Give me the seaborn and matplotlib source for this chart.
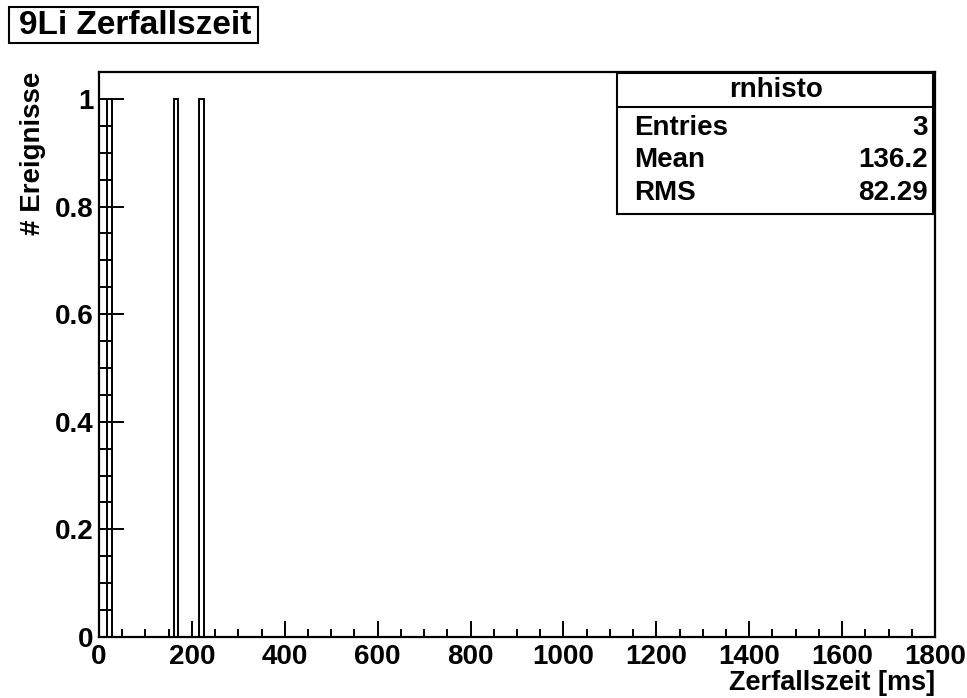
import numpy as np
import pandas as pd
import seaborn as sns
import matplotlib.pyplot as plt
from matplotlib.ticker import MultipleLocator, FuncFormatter
from matplotlib.patches import Rectangle
from matplotlib.lines import Line2D

# decay times of the three 9Li candidates [ms]
decay_times = [23.72, 166.6, 218.28]
hist_name = 'rnhisto'
x_ticks = [0, 200, 400, 600, 800, 1000, 1200, 1400, 1600, 1800]
y_ticks = [0, 0.2, 0.4, 0.6, 0.8, 1.0]
bin_edges = np.linspace(0, 1800, 201)

W, H = 967, 698

def px(x, y):
    # pixel position -> figure fraction
    return x / W, 1 - y / H

sns.set_style('ticks', {'axes.edgecolor': 'black', 'text.color': 'black',
                        'axes.labelcolor': 'black', 'xtick.color': 'black',
                        'ytick.color': 'black'})
plt.rcParams['font.family'] = ['Liberation Sans', 'DejaVu Sans']
plt.rcParams['font.weight'] = 'bold'

df = pd.DataFrame({'t': decay_times})

fig = plt.figure(figsize=(W / 100, H / 100), dpi=100)
ax = fig.add_axes([99 / W, 61 / H, 836 / W, 565 / H])

sns.histplot(data=df, x='t', bins=bin_edges, fill=False, color='black',
             linewidth=1.4, ax=ax)

ax.set_xlim(0, 1800)
ax.set_ylim(0, 1.05)
ax.set_xticks(x_ticks)
ax.set_yticks(y_ticks)
ax.xaxis.set_minor_locator(MultipleLocator(50))
ax.yaxis.set_minor_locator(MultipleLocator(0.05))
fmt = FuncFormatter(lambda v, p: f'{v:g}')
ax.xaxis.set_major_formatter(fmt)
ax.yaxis.set_major_formatter(fmt)

ax.tick_params(axis='both', which='both', direction='in', width=1.4,
               labelsize=20, top=False, right=False, color='black',
               labelcolor='black')
ax.tick_params(axis='y', which='major', length=18, pad=4)
ax.tick_params(axis='y', which='minor', length=9)
ax.tick_params(axis='x', which='major', length=11.5, pad=5)
ax.tick_params(axis='x', which='minor', length=5.8)
for s in ax.spines.values():
    s.set_linewidth(1.6)
    s.set_color('black')
    s.set_visible(True)

ax.set_xlabel('Zerfallszeit [ms]', fontsize=19.5, fontweight='bold', color='black')
ax.set_ylabel('# Ereignisse', fontsize=20, fontweight='bold', color='black')
ax.xaxis.set_label_coords(1.0, -0.081)
ax.xaxis.label.set_horizontalalignment('right')
ax.xaxis.label.set_verticalalignment('center')
ax.yaxis.set_label_coords(-0.079, 1.0)
ax.yaxis.label.set_verticalalignment('center')
ax.yaxis.label.set_horizontalalignment('right')

# title box
x0, y0 = px(9, 43)
x1, y1 = px(258, 7)
fig.patches.append(Rectangle((x0, y0), x1 - x0, y1 - y0, transform=fig.transFigure,
                             fill=False, edgecolor='black', linewidth=1.5))
tx, ty = px(135, 26)
fig.text(tx, ty, '9Li Zerfallszeit', fontsize=24, fontweight='bold',
         ha='center', va='center', color='black')

# stats box
mean = np.mean(decay_times)
rms = np.std(decay_times)
bx0, by0 = px(617, 214)
bx1, by1 = px(933, 73)
fig.patches.append(Rectangle((bx0, by0), bx1 - bx0, by1 - by0, transform=fig.transFigure,
                             facecolor='white', edgecolor='black', linewidth=1.5,
                             zorder=5))
sx0, sy = px(617, 107)
sx1, _ = px(933, 107)
fig.lines.append(Line2D([sx0, sx1], [sy, sy], transform=fig.transFigure,
                        color='black', linewidth=1.5, zorder=6))
fig.text(*px(776, 90), hist_name, fontsize=20, fontweight='bold',
         ha='center', va='center', zorder=7, color='black')
rows = [('Entries', f'{len(decay_times)}', 128),
        ('Mean', f'{mean:.4g}', 160),
        ('RMS', f'{rms:.4g}', 193)]
for name, val, yy in rows:
    fig.text(*px(634, yy), name, fontsize=20, fontweight='bold',
             ha='left', va='center', zorder=7, color='black')
    fig.text(*px(928, yy), val, fontsize=20, fontweight='bold',
             ha='right', va='center', zorder=7, color='black')

fig.savefig('out.png', dpi=100, facecolor='white')
